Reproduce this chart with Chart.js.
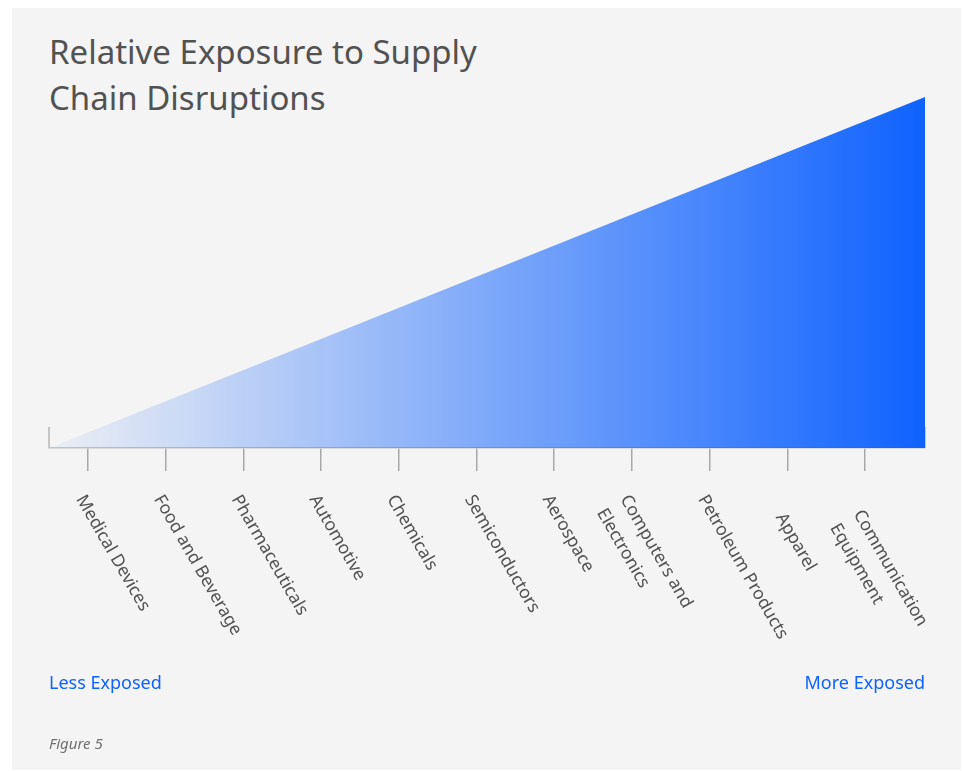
<!DOCTYPE html>
<html>
<head>
<meta charset="utf-8">
<title>Relative Exposure to Supply Chain Disruptions</title>
<script src="https://cdn.jsdelivr.net/npm/chart.js@4.4.1/dist/chart.umd.min.js"></script>
<style>
  body { margin: 0; background: #fff; font-family: "Noto Sans", sans-serif; }
  #panel { position: absolute; left: 12px; top: 8px; width: 949px; height: 762px; background: #f4f4f4; }
  #title { position: absolute; left: 49px; top: 29px; margin: 0; font-size: 33px; line-height: 46px; font-weight: 400; color: #525252; }
  #chart { position: absolute; left: 0; top: 0; }
  .end { position: absolute; top: 673px; font-size: 18px; line-height: 18px; color: #0f62fe; }
  #less { left: 49px; }
  #more { right: 38px; }
  #fig { position: absolute; left: 49px; top: 736px; font-size: 15px; line-height: 15px; font-style: italic; color: #6f6f6f; }
</style>
</head>
<body>
<div id="panel"></div>
<h1 id="title">Relative Exposure to Supply<br>Chain Disruptions</h1>
<canvas id="chart" width="963" height="771"></canvas>
<div class="end" id="less">Less Exposed</div>
<div class="end" id="more">More Exposed</div>
<div id="fig">Figure 5</div>

<script>
// Sectors, least exposed to most exposed
const sectors = [
  'Medical Devices', 'Food and Beverage', 'Pharmaceuticals', 'Automotive',
  'Chemicals', 'Semiconductors', 'Aerospace', ['Computers and', 'Electronics'],
  'Petroleum Products', 'Apparel', ['Communication', 'Equipment']
];

// Exposure wedge: rises from nothing to full across the sector axis
const exposure = [0, 100];
const axisRange = [-0.5, 10.77];

// Some labels sit a little lower in the original
const labelDrop = { 9: 18, 10: 15 };

// Rotated sector labels hanging under each tick
const sectorLabels = {
  id: 'sectorLabels',
  afterDraw(chart) {
    const x = chart.scales.x;
    const ctx = chart.ctx;
    const ang = 60 * Math.PI / 180;
    ctx.save();
    ctx.font = '17.5px "Noto Sans"';
    ctx.fillStyle = '#525252';
    ctx.textAlign = 'left';
    ctx.textBaseline = 'alphabetic';
    sectors.forEach((name, i) => {
      const px = x.getPixelForValue(i);
      const lines = [].concat(name);
      ctx.save();
      ctx.translate(px - 12, 499 + (labelDrop[i] || 0));
      ctx.rotate(ang);
      lines.forEach((ln, j) => ctx.fillText(ln, 0, j * 27));
      ctx.restore();
    });
    ctx.restore();
  }
};

// Short end posts at both ends of the axis
const endPosts = {
  id: 'endPosts',
  beforeDatasetsDraw(chart) {
    const x = chart.scales.x;
    const { bottom } = chart.chartArea;
    const ctx = chart.ctx;
    ctx.save();
    ctx.strokeStyle = '#c6c6c6';
    ctx.lineWidth = 2;
    [x.min, x.max].forEach(v => {
      const px = x.getPixelForValue(v);
      ctx.beginPath();
      ctx.moveTo(px, bottom - 21);
      ctx.lineTo(px, bottom);
      ctx.stroke();
    });
    ctx.restore();
  }
};

new Chart(document.getElementById('chart'), {
  type: 'line',
  data: {
    datasets: [{
      data: [
        { x: axisRange[0], y: exposure[0] },
        { x: axisRange[1], y: exposure[1] }
      ],
      fill: 'origin',
      borderWidth: 0,
      pointRadius: 0,
      backgroundColor(c) {
        const area = c.chart.chartArea;
        if (!area) return 'rgba(15,98,254,0.5)';
        const g = c.chart.ctx.createLinearGradient(area.left, 0, area.right, 0);
        g.addColorStop(0, 'rgba(15,98,254,0.03)');
        g.addColorStop(1, 'rgba(15,98,254,1)');
        return g;
      }
    }]
  },
  options: {
    responsive: false,
    animation: false,
    devicePixelRatio: 1,
    layout: { padding: { left: 49, right: 38, top: 97, bottom: 0 } },
    plugins: { legend: { display: false }, tooltip: { enabled: false } },
    scales: {
      x: {
        type: 'linear',
        min: axisRange[0],
        max: axisRange[1],
        afterBuildTicks: s => { s.ticks = sectors.map((_, i) => ({ value: i })); },
        afterFit: s => { s.height = 771 - 448; },
        ticks: { display: false },
        grid: { drawOnChartArea: false, drawTicks: true, tickLength: 23, color: '#a8a8a8', lineWidth: 1.5 },
        border: { color: '#c6c6c6', width: 1.5 }
      },
      y: { display: false, min: 0, max: 100 }
    }
  },
  plugins: [endPosts, sectorLabels]
});
</script>
</body>
</html>
